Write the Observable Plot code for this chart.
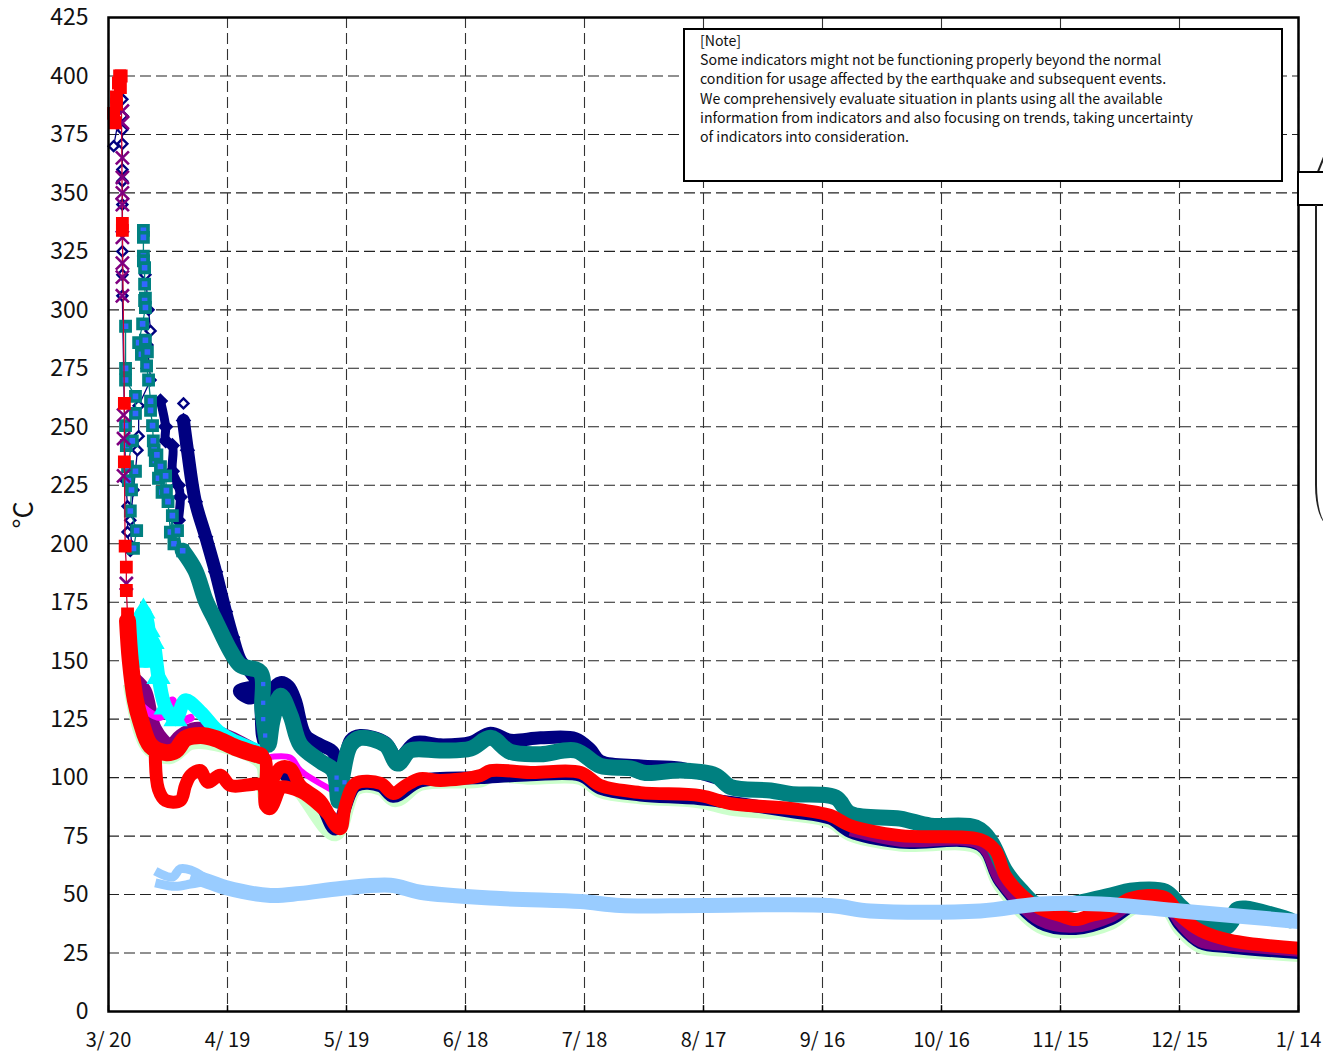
<!DOCTYPE html>
<html><head><meta charset="utf-8">
<script src="https://cdn.jsdelivr.net/npm/d3@7"></script>
<script src="https://cdn.jsdelivr.net/npm/@observablehq/plot@0.6"></script>
<style>
html,body{margin:0;padding:0;background:#fff;}
#wrap{position:relative;width:1323px;height:1054px;overflow:hidden;font-family:"Noto Sans CJK JP",sans-serif;}
#note{position:absolute;left:683px;top:28px;width:600px;height:154px;box-sizing:border-box;border:2px solid #000;background:#fff;padding:1px 0 0 15px;font-size:14.15px;line-height:19.2px;color:#111;white-space:pre;}
#v1{position:absolute;left:1297px;top:171px;width:40px;height:35px;box-sizing:border-box;border:2px solid #000;background:#fff;}
#v2{position:absolute;left:1315px;top:205px;width:30px;height:320px;box-sizing:border-box;border-left:2px solid #222;border-bottom-left-radius:14px 40px;}
#v3{position:absolute;left:1316px;top:150px;width:2px;height:24px;background:#222;transform:rotate(22deg);transform-origin:bottom left;}
</style></head><body>
<div id="wrap"><div id="chart"></div>
<div id="note"></div><div id="v3"></div><div id="v1"></div><div id="v2"></div></div>
<script>
const xTicks=[0,30,60,90,120,150,180,210,240,270,300];
const xLabels=["3/ 20","4/ 19","5/ 19","6/ 18","7/ 18","8/ 17","9/ 16","10/ 16","11/ 15","12/ 15","1/ 14"];
const yTicks=d3.range(0,426,25);
const noteLines=["[Note]","Some indicators might not be functioning properly beyond the normal","condition for usage affected by the earthquake and subsequent events.","We comprehensively evaluate situation in plants using all the available","information from indicators and also focusing on trends, taking uncertainty","of indicators into consideration."];

// [day since 3/20, °C]
const paleGreen=[[5.5,140],[8.1,120],[10.6,112],[15.6,109],[20.7,115],[27,114.5],[38.8,106],[39.6,92],[42.1,96],[44.6,101],[48.4,94],[57.2,76],[62.3,95.5],[68.6,95.5],[72.3,90.5],[78.6,97.5],[93.8,99],[96.3,101],[106.4,100.2],[119,100],[124,94.5],[134.1,91.8],[149.2,90],[156.8,87],[171.9,84.6],[182,81.6],[187,76],[199.6,71.6],[219.8,70],[224.9,54],[234.9,36.5],[243.8,34.5],[252.6,38],[258.9,45],[266.4,45],[270.2,35.5],[275.3,28],[282.8,26.5],[300,24.4]];
const navyLower=[[43.4,103],[48.4,95.5],[53.4,89],[57.2,78],[62.3,96.5],[68.6,96.5],[71.8,92],[78.6,98.5],[93.8,100],[106.4,101.2],[119,101],[124,95.5],[134.1,92.6],[149.2,91],[171.9,85.6],[182,82.6],[187,77],[199.6,72.4],[219.8,71.2],[224.9,55.5],[234.9,38],[243.8,35.5],[252.6,39.5],[258.9,46],[266.4,46],[270.2,37],[275.3,29.5],[282.8,27.6],[300,25.2]];
const navyUpper=[[18.9,252.7],[19.9,240],[21.9,218],[24.5,203],[27,188],[29.5,171],[31.3,160],[33.3,150],[35.8,145],[37.5,140],[33,137],[35.8,134],[37.8,137],[38.8,118],[39.6,114],[41.3,137],[43.4,140.6],[45.4,139],[47.1,133],[49.7,118],[53.4,114],[56.7,110.7],[58,90],[61,116],[63.5,118],[69.8,115],[72.9,108],[77.4,115],[83.7,114],[91.3,115],[96.3,119],[101.3,116],[108.9,117],[117.7,116.7],[121.5,112],[124,107],[134.1,105],[144.2,104],[153,100]];
const navyMid=[[13.1,261],[14.4,250],[14.4,244],[16.1,242],[16.1,231],[17.6,225],[18.1,220],[17.6,210]];
const purpleUpper=[[6.8,142],[9.3,137],[11.8,121],[15.6,114],[18.1,118],[21.9,121],[28.2,119],[38.8,110]];
const purpleLower=[[187,77.5],[199.6,73],[219.8,71.5],[224.9,56],[234.9,39],[243.8,36.3],[252.6,40.5],[258.9,47],[266.4,47],[270.2,38],[275.3,30],[282.8,28.4],[300,26]];
const magenta=[[4.8,150],[5.5,138],[6.8,133],[13.1,126],[16.1,133],[16.9,124],[20.7,125.5]];
const magenta2=[[39.6,108.5],[45.9,108.5],[48.4,103],[56,95]];
const cyanData=[[6.8,154],[7.3,165],[8.8,171],[10.1,163],[9.3,150],[11.1,158],[12.6,143],[14.4,130],[16.9,125],[19.4,133],[23.2,128],[28.2,119],[38.3,111]];
const tealMain=[[18.7,197],[21.9,188.5],[24.5,175.7],[27,167],[30.8,154],[33.3,148],[38.3,145],[38.8,129],[40.3,114],[41.3,124],[43.4,135],[45.9,126.5],[48.4,114],[53.4,107],[56.7,103],[58,90],[59,101],[61,114],[63.5,117],[69.8,114],[72.9,106],[76.1,111.6],[83.7,111.6],[91.3,112.4],[96.3,117],[101.3,111],[108.9,110],[117.7,111.6],[124,105],[131.6,104],[135.4,102],[144.2,103],[153,101],[156.8,96],[166.9,94.5],[171.9,93],[183.3,91.5],[187,84.6],[199.6,82.5],[207.2,79.5],[218.6,78.7],[222.3,73],[226.1,60],[229.9,52],[234.9,45],[252.6,49.6],[257.6,51.7],[266.4,51.3],[270.2,45],[275.3,38],[281.6,36],[283.3,39],[284.4,43.5],[286.6,44],[298,39]];
const redEarlyBand=[[4.8,167],[5.5,150],[6.8,133],[8.1,124.4],[10.6,113.7],[14.4,110.7],[16.9,111.6],[19.4,116.7],[23.2,118],[27,116.7],[32,112.9],[38.3,109.4]];
const redUpper=[[38.3,109.4],[39.6,107.3],[39.8,94.5],[41.3,98.8],[43.4,104.3],[45.9,103.9],[48.4,96.6],[53.4,90.2],[57.2,79.5],[58.5,78.2],[59.7,88],[62.3,97.5],[68.6,97.5],[71.8,93.2],[74.9,96.6],[78.6,99.6],[83.7,98.8],[93.8,100.9],[96.3,103],[106.4,102.2],[119,102.2],[124,96.6],[134.1,93.6],[149.2,92.3],[156.8,88.9],[171.9,86.8],[182,83.8],[187,79.5],[199.6,75.2],[219.8,73.5],[223.6,68.8],[226.1,58.1],[229.9,50.4],[234.9,44],[240,41],[243.8,39.3],[247.5,41],[252.6,43.2],[257.6,48.3],[266.4,48.7],[270.2,41],[275.3,34.6],[282.8,30.4],[300,27]];
const redLower=[[11.8,109],[12.6,95],[14.4,90.2],[18.1,90.2],[19.4,96.6],[20.7,101],[23.2,103],[25,98],[28.2,101],[30.8,96.6],[38.8,96.6],[39.6,88],[40.8,86.8],[42.9,94.5],[43.4,96],[48.4,94],[53.4,87.7],[58,79.5]];
const blueBand=[[20.7,58],[24.5,56],[29.5,53],[40.8,49.6],[48.4,50.5],[58.5,52.6],[71.1,54],[78.6,51],[98.8,48.3],[119,47],[129,45.3],[149.2,45.3],[182,45.3],[192,43],[219.8,43],[234.9,46],[250.1,46],[270.2,43],[300,38.5]];
const blueStrandA=[[11.8,60],[16.1,57.5],[18.1,61],[20.7,60.5],[24.5,56.9]];
const blueStrandB=[[11.8,55],[16.9,53.5],[20.7,54.5],[23.2,55.2]];

// early individual readings
const redEarly=[[1.3,384],[1.6,380],[2,388],[2,391],[2.5,397],[2.8,400],[3,395],[3.2,400],[3.5,337],[3.5,334],[4,260],[4,235],[4.2,199],[4.5,190],[4.5,180],[4.8,170]];
const purpleEarly=[[3.5,385],[3.5,380],[3.5,365],[3.5,356.6],[3.5,350],[3.5,345],[3.5,331],[3.5,320],[3.5,314],[3.5,306],[3.8,255],[3.8,245],[3.8,229],[4.5,183]];
const navyEarly=[[1.3,370],[3.5,390],[3.5,383],[3.5,377],[3.5,371],[3.5,360],[3.5,355],[3.5,345],[3.5,325],[3.5,315],[3.5,306],[4.3,227],[4.8,216],[4.8,205],[5.5,197],[8.8,323],[9.3,315],[10.1,300],[10.6,291],[9.8,285],[10.6,270],[7.6,259],[7.6,246],[7.3,240],[6.3,223],[5.5,210],[5.8,199],[18.9,260]];
const tealEarly=[[8.8,334],[8.8,331],[8.8,323],[8.8,321],[9.1,318],[9.1,311],[9.3,305],[9.1,304],[9.3,301],[8.6,294],[7.6,286],[8.3,281],[9.3,287],[9.8,282],[9.6,276],[10.1,270],[10.6,261],[10.6,257],[11.1,250.5],[11.3,244],[11.8,235.6],[11.5,240],[12.2,238],[12.6,228],[13.1,233],[13.5,222],[14.4,229],[14.6,222.7],[15,218],[15.6,205],[16.1,212],[16.5,200],[17.4,205.6],[18.7,197]];
const tealBranch=[[4.3,293],[4.3,275],[4.3,270],[6.8,263],[6.8,255.7],[4.3,250.5],[4.5,242],[6,244],[4.8,233],[6.8,231],[5,227],[5.8,223],[5.5,214],[7.1,205.6],[6.3,198]];
const blueTicks=[[39,140],[39,132],[39,125],[39.5,118],[57.5,100],[57.5,95],[59.5,98]];

const pts=a=>a.map(([d,v])=>({d,v}));
const band=(a,stroke,w,cap="round")=>Plot.line(pts(a),{x:"d",y:"v",stroke,strokeWidth:w,curve:"catmull-rom",strokeLinejoin:"round",strokeLinecap:cap});
const thin=(a,stroke)=>Plot.line(pts(a),{x:"d",y:"v",stroke,strokeWidth:1.3});
const sq=(a,stroke,fill)=>Plot.dot(pts(a),{x:"d",y:"v",symbol:"square",r:5.2,stroke,strokeWidth:3.6,fill});

const chart=Plot.plot({
  width:1323,height:1054,marginTop:17,marginBottom:43,marginLeft:108,marginRight:25,
  style:{fontFamily:'"Noto Sans CJK JP",sans-serif',background:"#fff",color:"#111"},
  x:{domain:[0,300],axis:null},
  y:{domain:[0,425],axis:null},
  marks:[
    Plot.ruleY(yTicks,{stroke:"#222",strokeWidth:1.1,strokeDasharray:"11,5"}),
    Plot.ruleX(xTicks,{stroke:"#333",strokeWidth:1.1,strokeDasharray:"11,5"}),
    band(paleGreen,"#ccffcc",15,"butt"),
    band(navyLower,"#000080",13,"butt"),
    thin(navyEarly.slice(0,15),"#000080"),
    thin(navyEarly.slice(15,27),"#000080"),
    band(navyMid,"#000080",9),
    Plot.dot(pts(navyMid),{x:"d",y:"v",symbol:"diamond2",r:7,fill:"#000080"}),
    band(navyUpper,"#000080",13),
    Plot.dot(pts(navyUpper.slice(0,8)),{x:"d",y:"v",symbol:"diamond2",r:7,fill:"#000080"}),
    band(purpleUpper,"#800080",13),
    band(purpleLower,"#800080",12,"butt"),
    band(magenta,"#ff00ff",8),
    band(magenta2,"#ff00ff",6),
    band(cyanData,"#00ffff",14),
    Plot.dot(pts(cyanData.slice(0,9)),{x:"d",y:"v",symbol:"triangle",r:9,fill:"#00ffff"}),
    Plot.dot(pts(navyEarly),{x:"d",y:"v",symbol:"diamond2",r:4.5,stroke:"#000080",strokeWidth:2.4,fill:"#fff"}),
    thin(tealBranch,"#008080"),
    thin(tealEarly,"#008080"),
    band(tealMain,"#008080",16),
    sq(tealBranch,"#008080","#3366ff"),
    sq(tealEarly,"#008080","#3366ff"),
    Plot.dot(pts(blueTicks),{x:"d",y:"v",symbol:"square",r:2.4,fill:"#3366ff"}),
    thin(redEarly,"#cc0033"),
    Plot.dot(pts(purpleEarly),{x:"d",y:"v",symbol:"times",r:6,stroke:"#800080",strokeWidth:2.6}),
    band(redLower,"#ff0000",13),
    band(redEarlyBand,"#ff0000",17),
    band(redUpper,"#ff0000",13,"butt"),
    sq(redEarly,"#ff0000","#ff0000"),
    band(blueBand,"#99ccff",15,"butt"),
    band(blueStrandA,"#99ccff",9,"butt"),
    band(blueStrandB,"#99ccff",9,"butt"),
    Plot.ruleX(xTicks,{y1:0,y2:2.5,stroke:"#000",strokeWidth:1.5}),
    Plot.frame({stroke:"#000",strokeWidth:2.5}),
    Plot.axisY({ticks:yTicks,tickSize:0,tickPadding:20,fontSize:23,dy:0.5,label:null}),
    Plot.axisX({ticks:xTicks,tickSize:0,tickPadding:21,fontSize:20,letterSpacing:"1px",tickFormat:d=>xLabels[xTicks.indexOf(d)],label:null}),
    Plot.text(["°C"],{frameAnchor:"left",y:[206.5],rotate:-90,dx:-84,fontSize:27})
  ]
});
document.getElementById("chart").appendChild(chart);
document.getElementById("note").textContent=noteLines.join("\n");
</script></body></html>
